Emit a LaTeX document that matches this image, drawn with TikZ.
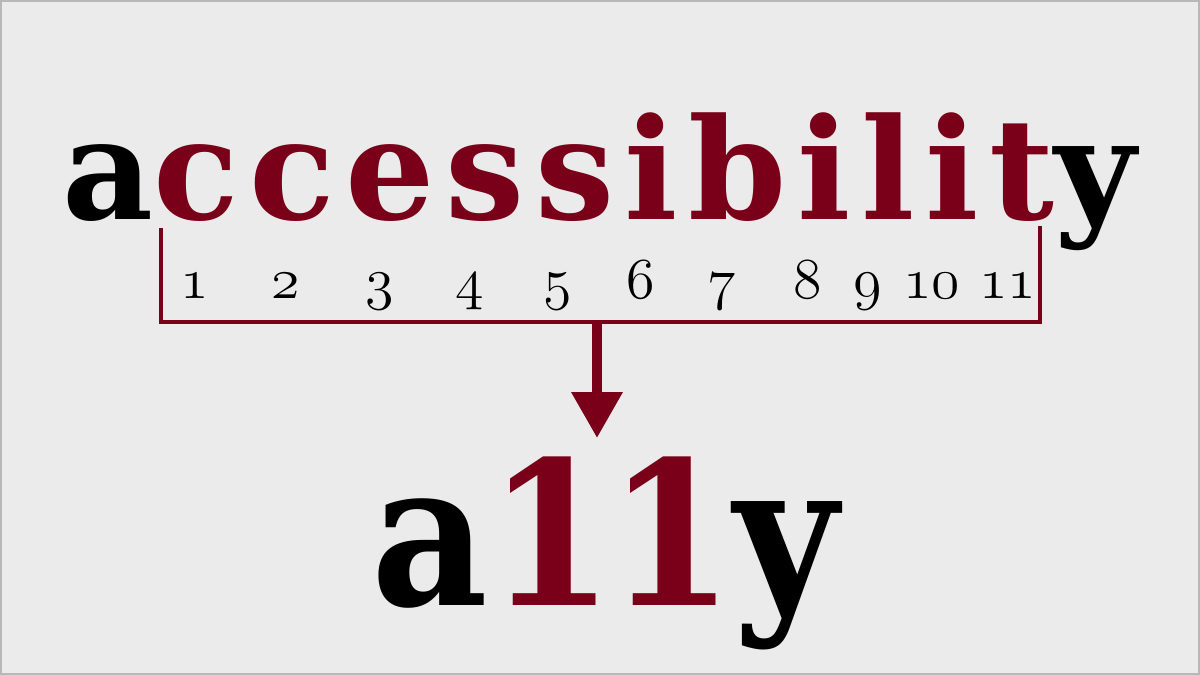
\RequirePackage{fix-cm}
\documentclass[tikz,border=0pt]{standalone}
\usepackage{fontspec}
\usetikzlibrary{arrows.meta}
\newfontfamily\wordfont{DejaVu Serif}[LetterSpace=7.5]
\newfontfamily\shortfont{DejaVu Serif Condensed}[LetterSpace=-3]
\newcommand{\oldnum}[1]{{\fontencoding{OML}\fontfamily{cmm}\fontseries{m}\fontshape{it}\selectfont #1}}
\definecolor{maroon}{HTML}{7A0019}
\definecolor{paper}{HTML}{EBEBEB}
\definecolor{frame}{HTML}{B8B8B8}

\begin{document}
\begin{tikzpicture}[x=0.02cm,y=-0.02cm,
  bracket/.style={draw=maroon, line width=0.08cm},
  num/.style={font=\fontsize{33}{33}\selectfont, anchor=base, inner sep=0pt}]
  % page
  \draw[frame, fill=paper, line width=0.04cm] (1,1) rectangle (1199,674);
  % long word
  \node[anchor=base, inner sep=0pt, font=\wordfont\bfseries\fontsize{80}{80}\selectfont] (word) at (599,220)
    {a\textcolor{maroon}{ccessibilit}y};
  % counted letters
  \foreach \n/\px in {1/195,2/286,3/380,4/470,5/558,6/641,7/722,8/808,9/868,10/932,11/1008}
  {
    \node[num] (n\n) at (\px,299) {\oldnum{\n}};
  }
  \coordinate (ltop) at (161,228);
  \coordinate (lbot) at (161,322);
  \coordinate (rbot) at (1040,322);
  \coordinate (rtop) at (1040,226);
  \coordinate (stem) at (597,322);
  \coordinate (tip) at (597,438);
  \draw[bracket] (ltop) -- (lbot) -- (rbot) -- (rtop);
  \draw[draw=maroon, line width=0.2cm, -{Triangle[width=0.98cm, length=0.92cm]}] (stem) -- (tip);
  % short form
  \node[anchor=base, inner sep=0pt, font=\shortfont\bfseries\fontsize{114}{114}\selectfont] (short) at (605,605)
    {a\textcolor{maroon}{11}y};
\end{tikzpicture}
\end{document}
